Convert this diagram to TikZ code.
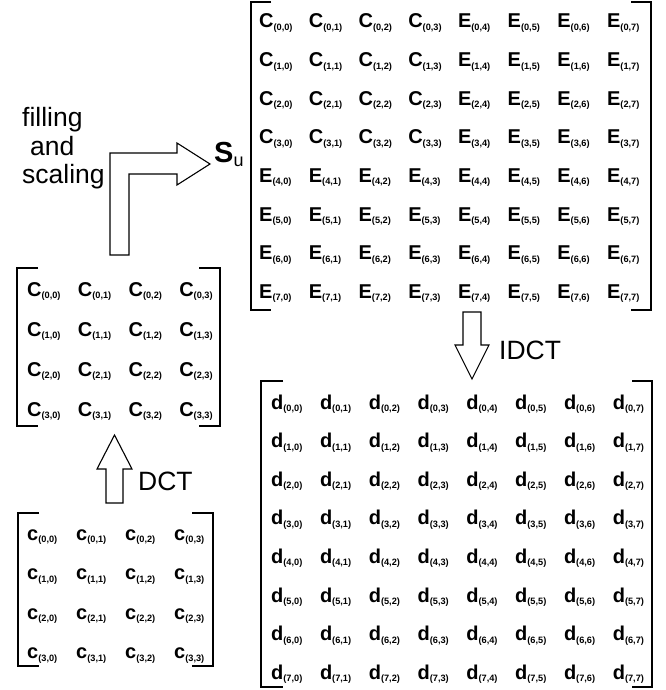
\documentclass[tikz,border=0pt]{standalone}
\usepackage{fontspec}
\setmainfont{Liberation Sans}
\newcommand\myent[2]{{\fontsize{20}{22}\selectfont\bfseries #1}\raisebox{-2.5pt}{\fontsize{9.2}{10}\selectfont\bfseries(#2)}}
\tikzset{
  ent/.style={inner sep=0pt, anchor=base west},
  brk/.style={line width=1.8pt},
  blk/.style={draw, line width=1.1pt, line join=miter, fill=white},
  lbl/.style={inner sep=0pt, anchor=base west, font=\fontsize{26.5}{28}\selectfont},
}
\begin{document}
\begin{tikzpicture}[x=1pt,y=-1pt]
\useasboundingbox (0,0) rectangle (665,690);
% top matrix S_u
\foreach \r in {0,...,7}{
  \foreach \c in {0,...,7}{
    \node[ent] (t-\r-\c) at ({259+49.7*\c},{28+38.6*\r})
      {\myent{\ifnum\r<4 \ifnum\c<4 C\else E\fi\else E\fi}{\r,\c}};
  }
}
\draw[brk] (271,2) -- (251,2) -- (251,310) -- (271,310);
\draw[brk] (631,2) -- (651,2) -- (651,310) -- (631,310);
% middle matrix
\foreach \r in {0,...,3}{
  \foreach \c in {0,...,3}{
    \node[ent] (m-\r-\c) at ({27+50.7*\c},{296+40*\r}) {\myent{C}{\r,\c}};
  }
}
\draw[brk] (38,268) -- (17,268) -- (17,426) -- (38,426);
\draw[brk] (199,268) -- (220,268) -- (220,426) -- (199,426);
% bottom matrix
\foreach \r in {0,...,3}{
  \foreach \c in {0,...,3}{
    \node[ent] (b-\r-\c) at ({27+49*\c},{540+39.5*\r}) {\myent{c}{\r,\c}};
  }
}
\draw[brk] (39,513) -- (18,513) -- (18,666) -- (39,666);
\draw[brk] (192,513) -- (213,513) -- (213,666) -- (192,666);
% d matrix
\foreach \r in {0,...,7}{
  \foreach \c in {0,...,7}{
    \node[ent] (d-\r-\c) at ({271+48.8*\c},{409+38.6*\r}) {\myent{d}{\r,\c}};
  }
}
\draw[brk] (283,381) -- (261,381) -- (261,687) -- (283,687);
\draw[brk] (632,381) -- (652,381) -- (652,687) -- (632,687);
% block arrows
\draw[blk] (110,255) -- (110,153) -- (177,153) -- (177,143) -- (210,164) -- (177,185) -- (177,174) -- (129,174) -- (129,255) -- cycle;
\draw[blk] (106,503) -- (106,469) -- (97,469) -- (114.5,435) -- (132,469) -- (123,469) -- (123,503) -- cycle;
\draw[blk] (463,312) -- (463,345) -- (455,345) -- (472,379) -- (489,345) -- (481,345) -- (481,312) -- cycle;
% labels
\node[lbl] (fill) at (22,127) {filling};
\node[lbl] (and) at (30,155) {and};
\node[lbl] (scal) at (22,183) {scaling};
\node[lbl] (dct) at (138,490) {DCT};
\node[lbl] (idct) at (499,359) {IDCT};
\node[inner sep=0pt, anchor=base west] (su) at (214,162)
  {\fontsize{29}{30}\selectfont\bfseries S\raisebox{-4pt}{\fontsize{18}{18}\selectfont\mdseries u}};
\end{tikzpicture}
\end{document}
